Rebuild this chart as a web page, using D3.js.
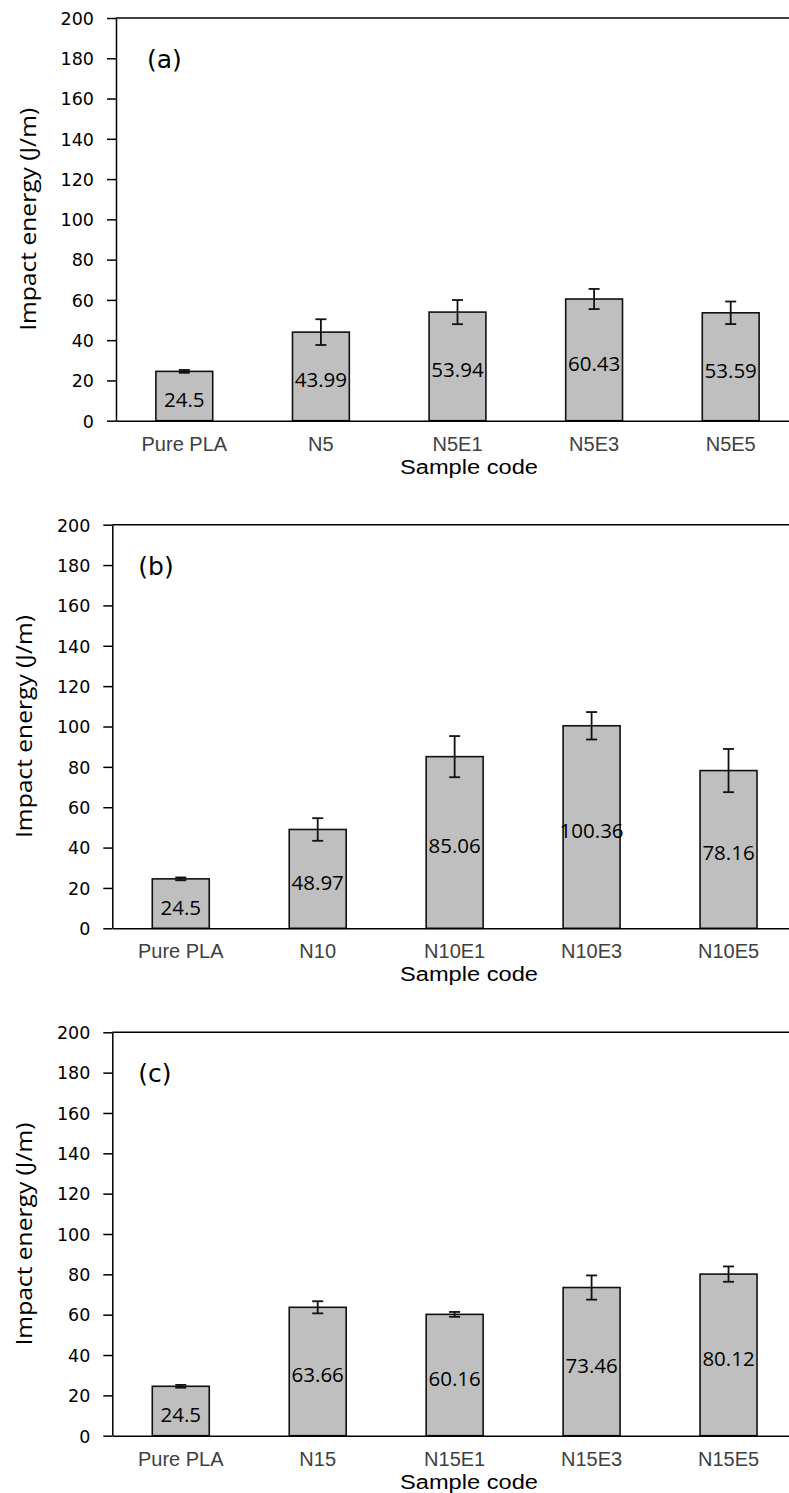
<!DOCTYPE html>
<html><head><meta charset="utf-8">
<script src="https://cdn.jsdelivr.net/npm/d3@7"></script>
<style>body{margin:0;background:#fff}svg{display:block}</style>
</head><body><div id="chart"></div>
<script>
// ---- data ----
const categoriesA = ["Pure PLA", "N5", "N5E1", "N5E3", "N5E5"];
const valuesA = [24.5, 43.99, 53.94, 60.43, 53.59];
const errorsA = [0.7, 6.4, 6.0, 5.0, 5.6];

const categoriesB = ["Pure PLA", "N10", "N10E1", "N10E3", "N10E5"];
const valuesB = [24.5, 48.97, 85.06, 100.36, 78.16];
const errorsB = [0.7, 5.6, 10.2, 6.8, 10.7];

const categoriesC = ["Pure PLA", "N15", "N15E1", "N15E3", "N15E5"];
const valuesC = [24.5, 63.66, 60.16, 73.46, 80.12];
const errorsC = [0.7, 3.0, 1.2, 6.0, 3.8];

const yTicks = [0, 20, 40, 60, 80, 100, 120, 140, 160, 180, 200];
const panelLabels = ["(a)", "(b)", "(c)"];
const xTitle = "Sample code";
const yTitle = "Impact energy (J/m)";

// ---- layout ----
const W = 789, H = 1493;
const layouts = [
  {left: 116, right: 799, top: 18, bottom: 420.7, labelDx: 31},
  {left: 112.3, right: 797, top: 524.7, bottom: 928.3, labelDx: 26},
  {left: 112.3, right: 797, top: 1032.3, bottom: 1435.7, labelDx: 26}
];
const panels = [
  {cats: categoriesA, vals: valuesA, errs: errorsA},
  {cats: categoriesB, vals: valuesB, errs: errorsB},
  {cats: categoriesC, vals: valuesC, errs: errorsC}
];

const svg = d3.select("#chart").append("svg")
  .attr("width", W).attr("height", H)
  .attr("viewBox", `0 0 ${W} ${H}`);

panels.forEach((p, i) => {
  const L = layouts[i];
  const g = svg.append("g");
  const y = d3.scaleLinear().domain([0, 200]).range([L.bottom, L.top]);
  const x = d3.scaleBand().domain(p.cats).range([L.left, L.right])
    .paddingInner(0.584).paddingOuter(0.292);

  // top border
  g.append("line")
    .attr("x1", L.left).attr("x2", L.right)
    .attr("y1", y(200)).attr("y2", y(200))
    .attr("stroke", "#000").attr("stroke-width", 1.5);

  // y axis
  const ya = g.append("g").attr("transform", `translate(${L.left},0)`)
    .call(d3.axisLeft(y).tickValues(yTicks).tickSize(9).tickSizeOuter(0).tickPadding(13));
  ya.select(".domain").attr("stroke", "#000").attr("stroke-width", 1.5);
  ya.selectAll(".tick line").attr("stroke", "#000").attr("stroke-width", 1.5);
  ya.selectAll(".tick text")
    .attr("font-family", "DejaVu Sans").attr("font-size", 17.5).attr("fill", "#000")
    .attr("dy", "0.36em");

  // bars
  g.selectAll("rect.bar").data(p.vals).join("rect")
    .attr("class", "bar")
    .attr("x", (d, j) => x(p.cats[j]))
    .attr("width", x.bandwidth())
    .attr("y", d => y(d))
    .attr("height", d => y(0) - y(d))
    .attr("fill", "#bfbfbf").attr("stroke", "#111").attr("stroke-width", 1.6);

  // x axis
  const xa = g.append("g").attr("transform", `translate(0,${L.bottom})`)
    .call(d3.axisBottom(x).tickSize(0).tickSizeOuter(0).tickPadding(0));
  xa.select(".domain").attr("stroke", "#000").attr("stroke-width", 1.5);
  xa.selectAll(".tick text")
    .attr("font-family", "Liberation Sans, Arial").attr("font-size", 20)
    .attr("fill", "#404040").attr("y", 30).attr("dy", 0);

  // error bars
  const eb = g.selectAll("g.err").data(p.vals).join("g").attr("class", "err")
    .attr("stroke", "#111").attr("stroke-width", 1.8);
  const cx = j => x(p.cats[j]) + x.bandwidth() / 2;
  eb.append("line")
    .attr("x1", (d, j) => cx(j)).attr("x2", (d, j) => cx(j))
    .attr("y1", (d, j) => y(d + p.errs[j])).attr("y2", (d, j) => y(d - p.errs[j]));
  eb.append("line")
    .attr("x1", (d, j) => cx(j) - 5.5).attr("x2", (d, j) => cx(j) + 5.5)
    .attr("y1", (d, j) => y(d + p.errs[j])).attr("y2", (d, j) => y(d + p.errs[j]));
  eb.append("line")
    .attr("x1", (d, j) => cx(j) - 5.5).attr("x2", (d, j) => cx(j) + 5.5)
    .attr("y1", (d, j) => y(d - p.errs[j])).attr("y2", (d, j) => y(d - p.errs[j]));

  // data labels
  g.selectAll("text.val").data(p.vals).join("text")
    .attr("class", "val")
    .attr("x", (d, j) => cx(j))
    .attr("y", d => (y(d) + y(0)) / 2 + 11)
    .attr("text-anchor", "middle")
    .attr("font-family", "Open Sans").attr("font-size", 20.5).attr("fill", "#000")
    .text(d => d);

  // panel label
  g.append("text")
    .attr("x", L.left + L.labelDx).attr("y", L.top + 50)
    .attr("font-family", "DejaVu Sans").attr("font-size", 25).attr("fill", "#000")
    .text(panelLabels[i]);

  // x title
  g.append("text")
    .attr("x", 469).attr("y", L.bottom + 53)
    .attr("text-anchor", "middle")
    .attr("font-family", "Liberation Sans, Arial").attr("font-size", 20).attr("fill", "#000")
    .attr("textLength", 138).attr("lengthAdjust", "spacingAndGlyphs")
    .text(xTitle);

  // y title
  const ty = (L.top + L.bottom) / 2, tx = L.left - 80;
  g.append("text")
    .attr("transform", `translate(${tx},${ty}) rotate(-90)`)
    .attr("text-anchor", "middle")
    .attr("font-family", "Open Sans").attr("font-size", 22).attr("fill", "#000")
    .attr("textLength", 223).attr("lengthAdjust", "spacingAndGlyphs")
    .text(yTitle);
});
</script>
</body></html>
